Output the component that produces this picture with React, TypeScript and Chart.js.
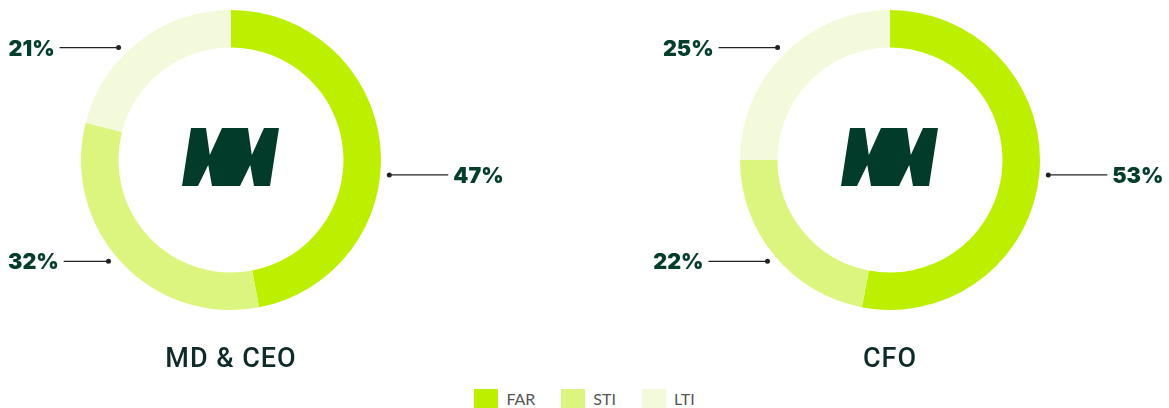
import React, { useEffect, useRef } from "react";
import { Chart, registerables } from "chart.js";

Chart.register(...registerables);

// ---- data ----
const categories = ["FAR", "STI", "LTI"];
const segmentColors = ["#bdf000", "#dcf57e", "#f2fadb"];
const roles = ["MD & CEO", "CFO"];
const mdCeoValues = [47, 32, 21];
const cfoValues = [53, 22, 25];
// the reference places the call-outs of both rings at the same spots (the CFO split)
const labelAnchorValues = cfoValues;

const PCT_COLOR = "#033d2b";
const LOGO_COLOR = "#023b2a";
const TITLE_COLOR = "#0e2b29";
const PAGE_MARGIN = 8;

function drawLogo(ctx: CanvasRenderingContext2D, cx: number, cy: number) {
  const h = 58;
  const skew = 0.155;
  const left = cx - 49;
  const top = cy - 32;
  const pts = [
    [0, 58], [0, 0], [15, 0], [23, 27], [31, 0], [57, 0], [65, 27], [73, 0], [88, 0],
    [88, 58], [72, 58], [65, 37], [58, 58], [30, 58], [23, 37], [16, 58],
  ];
  ctx.save();
  ctx.fillStyle = LOGO_COLOR;
  ctx.beginPath();
  pts.forEach(([x, y], i) => {
    const px = left + x + skew * (h - y);
    const py = top + y;
    if (i === 0) ctx.moveTo(px, py);
    else ctx.lineTo(px, py);
  });
  ctx.closePath();
  ctx.fill();
  ctx.restore();
}

const decorPlugin = {
  id: "decor",
  afterDraw(chart: any, _args: any, opts: any) {
    const ctx: CanvasRenderingContext2D = chart.ctx;
    const meta = chart.getDatasetMeta(0);
    const data = chart.data.datasets[0].data as number[];
    const first = meta.data[0].getProps(["x", "y", "outerRadius"], true);
    const cx = first.x, cy = first.y, R = first.outerRadius;
    const anchors: number[] = opts.anchors || data;
    const total = anchors.reduce((a: number, b: number) => a + b, 0);
    let acc = 0;
    anchors.forEach((v: number, i: number) => {
      const mid = -Math.PI / 2 + ((acc + v / 2) / total) * Math.PI * 2;
      acc += v;
      const r = R + 9;
      const dx = cx + Math.cos(mid) * r;
      const dy = cy + Math.sin(mid) * r;
      const dir = Math.cos(mid) >= 0 ? 1 : -1;
      const label = data[i] + "%";
      ctx.save();
      ctx.font = "900 21.5px Inter";
      const tw = ctx.measureText(label).width;
      let lineEnd = dx + dir * 59;
      if (dir < 0) {
        // keep the call-out inside the page: shorten the leader if needed
        const minEnd = PAGE_MARGIN - chart.canvas.offsetLeft + tw + 5;
        if (lineEnd < minEnd) lineEnd = minEnd;
      }
      ctx.strokeStyle = "#222";
      ctx.lineWidth = 1.2;
      ctx.beginPath();
      ctx.moveTo(dx, dy);
      ctx.lineTo(lineEnd, dy);
      ctx.stroke();
      ctx.fillStyle = "#222";
      ctx.beginPath();
      ctx.arc(dx, dy, 2.5, 0, Math.PI * 2);
      ctx.fill();
      ctx.fillStyle = PCT_COLOR;
      ctx.textBaseline = "alphabetic";
      ctx.textAlign = dir > 0 ? "left" : "right";
      ctx.fillText(label, lineEnd + dir * 5, dy + 8);
      ctx.restore();
    });
    drawLogo(ctx, cx, cy);
    ctx.save();
    ctx.font = "500 27px Roboto";
    (ctx as any).letterSpacing = "1px";
    ctx.fillStyle = TITLE_COLOR;
    ctx.textAlign = "center";
    ctx.textBaseline = "alphabetic";
    ctx.fillText(opts.title, cx, cy + R + 57);
    ctx.restore();
  },
};

function Donut(props: { values: number[]; title: string; width: number; height: number; padding: any; left: number }) {
  const ref = useRef<HTMLCanvasElement | null>(null);
  useEffect(() => {
    if (!ref.current) return;
    const chart = new Chart(ref.current, {
      type: "doughnut",
      data: {
        labels: categories,
        datasets: [
          {
            data: props.values,
            backgroundColor: segmentColors,
            borderWidth: 0,
            hoverOffset: 0,
          },
        ],
      },
      options: {
        responsive: false,
        animation: false,
        devicePixelRatio: 1,
        cutout: "75%",
        layout: { padding: props.padding },
        plugins: {
          legend: { display: false },
          tooltip: { enabled: false },
          decor: { title: props.title, anchors: labelAnchorValues },
        } as any,
      },
      plugins: [decorPlugin],
    });
    return () => chart.destroy();
  }, []);
  return (
    <canvas
      ref={ref}
      width={props.width}
      height={props.height}
      style={{ position: "absolute", left: props.left, top: 0, width: props.width, height: props.height }}
    />
  );
}

export default function App() {
  return (
    <div style={{ position: "absolute", left: 0, top: 0, width: 1169, height: 408, background: "#fff", overflow: "hidden" }}>
      <Donut values={mdCeoValues} title={roles[0]} width={580} height={380} left={0}
        padding={{ left: 81, right: 199, top: 10, bottom: 70 }} />
      <Donut values={cfoValues} title={roles[1]} width={589} height={380} left={580}
        padding={{ left: 160, right: 129, top: 10, bottom: 70 }} />
      <div style={{ position: "absolute", left: 0, top: 389, width: 1169, display: "flex", justifyContent: "center", fontFamily: "Lato, sans-serif", fontSize: 16, color: "#555", lineHeight: "19px" }}>
        {categories.map((c, i) => (
          <div key={c} style={{ display: "flex", alignItems: "center", marginRight: i < categories.length - 1 ? 26 : 0 }}>
            <span style={{ display: "inline-block", width: 24, height: 19, background: segmentColors[i], marginRight: 8 }} />
            <span>{c}</span>
          </div>
        ))}
      </div>
    </div>
  );
}
